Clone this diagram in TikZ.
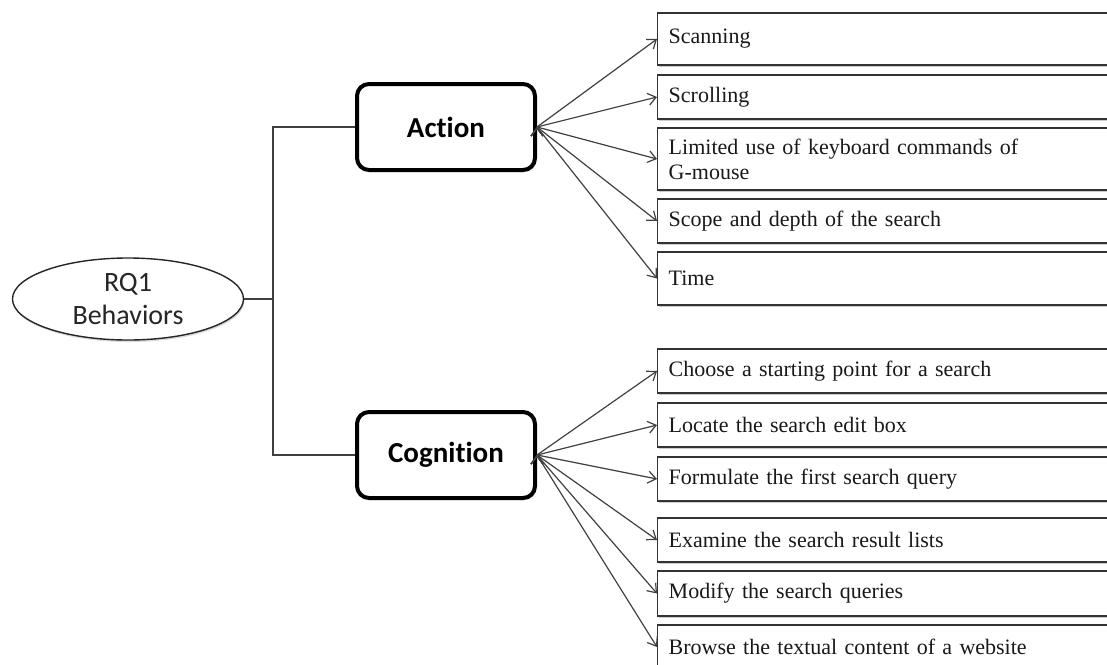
\documentclass[tikz,border=0pt]{standalone}
\usepackage{fontspec}
\setmainfont{Liberation Serif}
\newfontfamily\calibri[Ligatures=NoCommon]{Carlito}
\usetikzlibrary{shapes.geometric,arrows.meta,shadows}

\begin{document}
\begin{tikzpicture}[x=1pt, y=-1pt,
  item/.style={shape=rectangle, draw=black!80, line width=1.4pt, fill=white, anchor=west,
    minimum width=462pt, text width=440pt, inner xsep=10pt, inner ysep=0pt, align=left,
    font=\fontsize{22}{25}\selectfont, text=black!90,
    drop shadow={shadow xshift=1.5pt, shadow yshift=-2pt, fill=black!20, opacity=1}},
  group/.style={shape=rectangle, rounded corners=12pt, draw=black, line width=4pt, fill=white,
    minimum width=178pt, minimum height=86pt, font=\calibri\bfseries\fontsize{29}{33}\selectfont,
    drop shadow={shadow xshift=1.5pt, shadow yshift=-2pt, fill=black!25, opacity=1}},
  link/.style={draw=black!75, line width=1.2pt},
  pointer/.style={link, -{Straight Barb[length=8pt, width=12pt, line width=1.2pt]}}]
\useasboundingbox (0,0) rectangle (1107,664);

% research question
\node[shape=ellipse, draw=black!85, line width=1.4pt, fill=white, inner sep=0pt,
  minimum width=231pt, minimum height=82pt, align=center,
  font=\calibri\fontsize{28}{33}\selectfont, text=black!85,
  drop shadow={shadow xshift=1pt, shadow yshift=-2pt, fill=black!15, opacity=1}] (rq) at (128,299) {RQ1\\Behaviors};

% the two groups
\node[group] (act) at (446,127) {Action};
\node[group] (cog) at (446,455) {Cognition};
\coordinate (trunk) at (273,299);

% action items
\node[item, minimum height=52pt] (scan) at (657,39) {Scanning};
\node[item, minimum height=44pt] (scroll) at (657,97) {Scrolling};
\node[item, minimum height=62pt] (keys) at (657,159) {Limited use of keyboard commands of\\G-mouse};
\node[item, minimum height=44pt] (scope) at (657,221) {Scope and depth of the search};
\node[item, minimum height=53pt] (time) at (657,278.5) {Time};

% cognition items
\node[item, minimum height=44pt] (start) at (657,371) {Choose a starting point for a search};
\node[item, minimum height=44pt] (locate) at (657,425) {Locate the search edit box};
\node[item, minimum height=44pt] (query) at (657,479) {Formulate the first search query};
\node[item, minimum height=44pt] (examine) at (657,540) {Examine the search result lists};
\node[item, minimum height=45pt] (modify) at (657,593.5) {Modify the search queries};
\node[item, minimum height=44pt] (browse) at (657,647) {Browse the textual content of a website};

% tree lines
\draw[link] (rq.east) -- (trunk);
\draw[link] (act.west) -| (trunk) |- (cog.west);

\foreach \b in {scan, scroll, keys, scope, time}
  \path[pointer] (act.east) edge (\b.west);
\foreach \b in {start, locate, query, examine, modify, browse}
  \path[pointer] (cog.east) edge (\b.west);
\end{tikzpicture}
\end{document}
